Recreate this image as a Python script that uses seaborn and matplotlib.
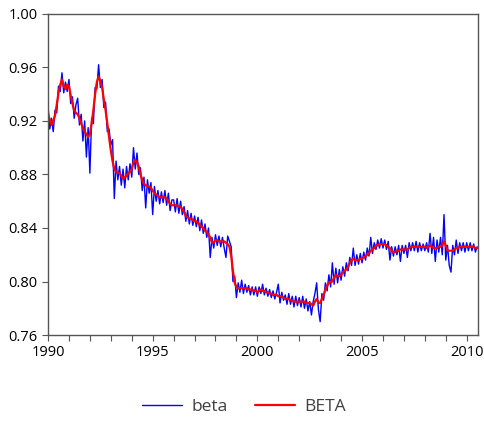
import numpy as np
import pandas as pd
import matplotlib
matplotlib.use("Agg")
import matplotlib.pyplot as plt
import seaborn as sns

start_year = 1990
months_per_year = 12

# Smoothed series (BETA), monthly, 1990-01 .. 2010-07
BETA = [
    0.925, 0.921, 0.917, 0.920, 0.924, 0.932, 0.941, 0.947, 0.951, 0.946, 0.944, 0.947,
    0.946, 0.939, 0.933, 0.928, 0.926, 0.925, 0.922, 0.918, 0.915, 0.912, 0.910, 0.908,
    0.910, 0.918, 0.928, 0.940, 0.949, 0.953, 0.950, 0.945, 0.936, 0.928, 0.918, 0.908,
    0.898, 0.890, 0.884, 0.882, 0.881, 0.881, 0.879, 0.877, 0.878, 0.879, 0.881, 0.882,
    0.884, 0.889, 0.891, 0.889, 0.886, 0.880, 0.876, 0.873, 0.872, 0.871, 0.871, 0.870,
    0.868, 0.866, 0.865, 0.864, 0.863, 0.863, 0.863, 0.863, 0.862, 0.860, 0.858, 0.857,
    0.857, 0.857, 0.857, 0.856, 0.856, 0.854, 0.852, 0.849, 0.848, 0.847, 0.847, 0.846,
    0.845, 0.845, 0.844, 0.842, 0.841, 0.840, 0.838, 0.837, 0.835, 0.833, 0.829, 0.829,
    0.831, 0.831, 0.830, 0.830, 0.830, 0.830, 0.829, 0.828, 0.826, 0.819, 0.808, 0.799,
    0.796, 0.795, 0.795, 0.795, 0.795, 0.795, 0.795, 0.794, 0.794, 0.794, 0.793, 0.793,
    0.792, 0.793, 0.794, 0.793, 0.793, 0.792, 0.792, 0.791, 0.791, 0.790, 0.790, 0.790,
    0.789, 0.789, 0.789, 0.788, 0.787, 0.787, 0.787, 0.786, 0.786, 0.785, 0.785, 0.785,
    0.785, 0.785, 0.785, 0.785, 0.784, 0.784, 0.784, 0.783, 0.782, 0.785, 0.787, 0.784,
    0.784, 0.787, 0.790, 0.794, 0.797, 0.799, 0.800, 0.800, 0.803, 0.805, 0.804, 0.804,
    0.805, 0.807, 0.808, 0.809, 0.811, 0.814, 0.816, 0.817, 0.816, 0.816, 0.816, 0.817,
    0.817, 0.818, 0.819, 0.820, 0.821, 0.823, 0.824, 0.825, 0.827, 0.827, 0.828, 0.828,
    0.828, 0.828, 0.827, 0.826, 0.825, 0.823, 0.822, 0.822, 0.823, 0.823, 0.824, 0.824,
    0.824, 0.824, 0.824, 0.825, 0.826, 0.826, 0.826, 0.826, 0.826, 0.826, 0.826, 0.826,
    0.826, 0.825, 0.826, 0.827, 0.826, 0.825, 0.825, 0.825, 0.826, 0.826, 0.827, 0.830,
    0.827, 0.823, 0.823, 0.823, 0.823, 0.824, 0.825, 0.825, 0.826, 0.826, 0.826, 0.826,
    0.826, 0.826, 0.826, 0.826, 0.826, 0.825, 0.825,
]

# Raw series (beta), monthly, 1990-01 .. 2010-07
beta = [
    0.932, 0.914, 0.922, 0.912, 0.928, 0.926, 0.946, 0.942, 0.956, 0.941, 0.949, 0.942,
    0.951, 0.933, 0.938, 0.922, 0.932, 0.937, 0.917, 0.925, 0.905, 0.920, 0.893, 0.915,
    0.881, 0.922, 0.918, 0.945, 0.944, 0.962, 0.945, 0.951, 0.930, 0.934, 0.912, 0.914,
    0.902, 0.906, 0.862, 0.890, 0.876, 0.886, 0.872, 0.884, 0.870, 0.886, 0.876, 0.888,
    0.878, 0.900, 0.884, 0.896, 0.880, 0.885, 0.868, 0.878, 0.855, 0.876, 0.866, 0.874,
    0.850, 0.871, 0.860, 0.868, 0.858, 0.867, 0.859, 0.868, 0.857, 0.866, 0.853, 0.861,
    0.861, 0.852, 0.862, 0.851, 0.860, 0.850, 0.856, 0.845, 0.853, 0.843, 0.851, 0.842,
    0.849, 0.841, 0.848, 0.838, 0.846, 0.836, 0.843, 0.833, 0.840, 0.818, 0.833, 0.825,
    0.835, 0.827, 0.834, 0.826, 0.833, 0.825, 0.818, 0.834, 0.830, 0.826, 0.800, 0.804,
    0.788, 0.799, 0.792, 0.801, 0.791, 0.798, 0.792, 0.797, 0.790, 0.796, 0.790, 0.796,
    0.789, 0.796, 0.791, 0.798, 0.790, 0.795, 0.789, 0.794, 0.788, 0.793, 0.787, 0.792,
    0.798, 0.784, 0.792, 0.786, 0.790, 0.783, 0.791, 0.783, 0.789, 0.781, 0.789, 0.782,
    0.788, 0.781, 0.789, 0.780, 0.787, 0.778, 0.785, 0.775, 0.785, 0.791, 0.799, 0.779,
    0.770, 0.791, 0.786, 0.799, 0.793, 0.805, 0.796, 0.814, 0.798, 0.810, 0.799, 0.809,
    0.801, 0.811, 0.804, 0.814, 0.808, 0.818, 0.812, 0.825, 0.812, 0.820, 0.813, 0.821,
    0.814, 0.822, 0.816, 0.825, 0.819, 0.833, 0.821, 0.829, 0.824, 0.831, 0.825, 0.832,
    0.825, 0.831, 0.824, 0.830, 0.816, 0.826, 0.819, 0.826, 0.820, 0.827, 0.815, 0.827,
    0.821, 0.827, 0.818, 0.829, 0.823, 0.829, 0.823, 0.830, 0.822, 0.829, 0.823, 0.828,
    0.823, 0.829, 0.822, 0.836, 0.821, 0.833, 0.815, 0.831, 0.822, 0.833, 0.820, 0.850,
    0.816, 0.827, 0.812, 0.807, 0.827, 0.820, 0.831, 0.821, 0.829, 0.823, 0.829, 0.822,
    0.829, 0.823, 0.829, 0.823, 0.828, 0.822, 0.826,
]

y_ticks = [0.76, 0.80, 0.84, 0.88, 0.92, 0.96, 1.00]
x_labels = [1990, 1995, 2000, 2005, 2010]

t = start_year + np.arange(len(beta)) / months_per_year
df = pd.DataFrame({"t": np.concatenate([t, t]),
                   "value": beta + BETA,
                   "series": ["beta"] * len(beta) + ["BETA"] * len(BETA)})

sns.set_style("ticks")
plt.rcParams["font.family"] = ["Open Sans", "DejaVu Sans"]

fig = plt.figure(figsize=(4.85, 4.34), dpi=100)
ax = fig.add_axes([0.099, 0.228, 0.887, 0.740])

sns.lineplot(data=df[df.series == "beta"], x="t", y="value", color="#0000ff",
             linewidth=1.0, ax=ax, label="beta")
sns.lineplot(data=df[df.series == "BETA"], x="t", y="value", color="#ff0000",
             linewidth=1.6, ax=ax, label="BETA")

ax.set_xlim(1990, 2010.55)
ax.set_ylim(0.76, 1.00)
ax.set_yticks(y_ticks)
ax.set_yticklabels([f"{v:.2f}" for v in y_ticks])
ax.set_xticks(x_labels)
ax.set_xticklabels([str(v) for v in x_labels])
ax.set_xticks(np.arange(1990, 2011), minor=True)
ax.tick_params(axis="both", which="both", direction="out", length=4, width=0.8,
               colors="#555555", labelcolor="black", labelsize=10.5)
for s in ax.spines.values():
    s.set_visible(True)
    s.set_color("#555555")
    s.set_linewidth(1.0)
ax.set_xlabel("")
ax.set_ylabel("")
ax.get_legend().remove()

handles, labels = ax.get_legend_handles_labels()
fig.legend(handles, labels, loc="center", bbox_to_anchor=(0.503, 0.062), ncol=2,
           frameon=False, fontsize=12.5, handlelength=2.3, handletextpad=0.57,
           columnspacing=1.55, labelcolor="#404040")

fig.savefig("out.png", dpi=100)
